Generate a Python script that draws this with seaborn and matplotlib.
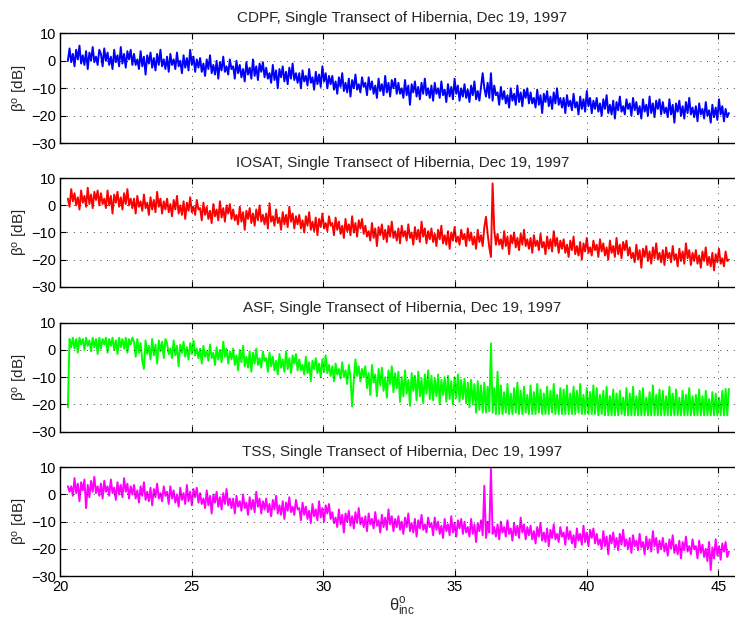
import numpy as np
import pandas as pd
import matplotlib
matplotlib.use("Agg")
import matplotlib.pyplot as plt
import seaborn as sns

# ---------------- data ----------------
theta_start, theta_end = 20.3, 45.4

cdpf = [
    0, 4.5, -0.5, 2.5, -2, 4, 0.5, 5.5, -1, 2, -1.5, 3.5, -3, 3, 0, 5, -0.5, 1.5, -1.5, 4,
    2.5, -2, 4.5, 0, 3, -1.5, 1.5, -3, 4, -0.5, 2, -2, 5, -1, 2.5, -2.5, 3.5, 0.5, 4, -1.5,
    2.5, -1.5, 0.5, -3, 3.5, -2, 1.5, -5, 2, -1, 3, -2.5, 1, -3.5, 2.5, -1.5, 4, -2, 0.5, -3,
    1.5, -4, 2.5, -1.5, 0.5, -3, 3, -2, 0, -4.5, 2, -2.5, 1, -3.5, 4, -1.5, 1.5, -4, 0.5, -2.5,
    1, -4, -1, -5.5, 0.5, -3, 2, -4.5, -1.5, -5, 0, -6.5, -0.5, -3.5, 1.5, -4, -2, -5, 0.5, -3,
    -2, -6.5, 0, -4.5, -1.5, -6, -3, -7.5, -0.5, -5, -2.5, -6.5, 0.5, -5.5, -2, -7, -1, -4, -0.5, -6,
    -2.5, -6.5, -4.5, -8, -1.5, -7, -3.5, -10, -3, -6, -2, -7.5, -4, -8.5, -2.5, -6.5, -1, -7, -4.5, -8,
    -4.5, -10, -3.5, -7.5, -5.5, -9, -3, -8, -6, -10.5, -4, -8.5, -5, -9.5, -2, -7.5, -4.5, -10, -5.5, -8.5,
    -5.5, -10.5, -7.5, -12, -6, -9.5, -4.5, -11, -8, -11.5, -6.5, -13, -7, -10, -5, -10.5, -8.5, -11.5, -6, -9.5,
    -8, -12.5, -6, -10.5, -7.5, -12, -9, -13.5, -6.5, -11, -8.5, -12.5, -5.5, -11.5, -8, -13, -7, -10, -6.5, -12,
    -8, -12, -10, -13.5, -7, -12.5, -9, -16, -8.5, -11.5, -7.5, -13, -9.5, -14, -8, -12, -6.5, -12.5, -10, -13.5,
    -9, -14.5, -8, -12, -10, -13.5, -7.5, -12.5, -10.5, -15, -8.5, -13, -9.5, -14, -6.5, -12, -9, -14.5, -10, -13,
    -8.5, -13.5, -10.5, -15, -9, -12.5, -7.5, -14, -11, -14.5, -9.5, -4.5, -10, -13, -8, -13.5, -4.5, -14.5, -9, -12.5,
    -11.5, -16, -9.5, -14, -11, -15.5, -12.5, -17, -10, -14.5, -12, -16, -9, -15, -11.5, -16.5, -10.5, -13.5, -10, -15.5,
    -11.5, -15.5, -13.5, -17, -10.5, -16, -12.5, -19, -12, -15, -11, -16.5, -13, -17.5, -11.5, -15.5, -10, -16, -13.5, -17,
    -13.5, -19, -12.5, -16.5, -14.5, -18, -12, -17, -15, -19.5, -13, -17.5, -14, -18.5, -11, -16.5, -13.5, -19, -14.5, -17.5,
    -13.5, -18.5, -15.5, -20, -14, -17.5, -12.5, -19, -16, -19.5, -14.5, -21, -15, -18, -13, -18.5, -16.5, -19.5, -14, -17.5,
    -15.5, -20, -13.5, -18, -15, -19.5, -16.5, -21, -14, -18.5, -16, -20, -13, -19, -15.5, -20.5, -14.5, -17.5, -14, -19.5,
    -15, -19, -17, -20.5, -14, -19.5, -16, -22.5, -15.5, -18.5, -14.5, -20, -16.5, -21, -15, -19, -13.5, -19.5, -17, -20.5,
    -16.5, -22, -15.5, -19.5, -17.5, -21, -15, -20, -18, -22.5, -16, -20.5, -17, -21.5, -14, -19.5, -16.5, -22, -17.5, -20.5,
    -19,
]

iosat = [
    2.5, -0.5, 6, 1.5, 4.5, 0, 3, -1.5, 5.5, 1, 3.5, -0.5, 6.5, 0.5, 4, -1, 5, 2, 5.5, 0,
    4.5, 0.5, 2.5, -1, 5.5, 0, 3.5, -3, 4, 1, 5, -0.5, 3, -1.5, 4.5, 0.5, 6, 0, 2.5, -1,
    2.5, -3, 3.5, -0.5, 1.5, -2, 4, -1, 1, -3.5, 3, -1.5, 2, -2.5, 5, -0.5, 2.5, -3, 1.5, -1.5,
    2.5, -2.5, 0.5, -4, 2, -1.5, 3.5, -3, 0, -3.5, 1.5, -5, 1, -2, 3, -2.5, -0.5, -3.5, 2, -1.5,
    -1, -5.5, 1, -3.5, -0.5, -5, -2, -6.5, 0.5, -4, -1.5, -5.5, 1.5, -4.5, -1, -6, 0, -3, 0.5, -5,
    -1.5, -5.5, -3.5, -7, -0.5, -6, -2.5, -9, -2, -5, -1, -6.5, -3, -7.5, -1.5, -5.5, 0, -6, -3.5, -7,
    -3, -8.5, 0.8, -6, -4, -7.5, -1.5, -6.5, -4.5, -9, -2.5, -7, -3.5, -8, -0.5, -6, -3, -8.5, -4, -7,
    -3.5, -8.5, -5.5, -10, -4, -7.5, -2.5, -9, -6, -9.5, -4.5, -11, -5, -8, -3, -8.5, -6.5, -9.5, -4, -7.5,
    -6.5, -11, -4.5, -9, -6, -10.5, -7.5, -12, -5, -9.5, -7, -11, -4, -10, -6.5, -11.5, -5.5, -8.5, -5, -10.5,
    -7.5, -11.5, -9.5, -13, -6.5, -12, -8.5, -15, -8, -11, -7, -12.5, -9, -13.5, -7.5, -11.5, -6, -12, -9.5, -13,
    -8.5, -14, -7.5, -11.5, -9.5, -13, -7, -12, -10, -14.5, -8, -12.5, -9, -13.5, -6, -11.5, -8.5, -14, -9.5, -12.5,
    -8.5, -13.5, -10.5, -15, -9, -12.5, -7.5, -14, -11, -14.5, -9.5, -16, -10, -13, -8, -13.5, -11.5, -14.5, -9, -12.5,
    -10.5, -15, -8.5, -13, -10, -14.5, -11.5, -16, -9, -13.5, -11, -15, -8, -4.2, -10.5, -15.5, -19, 8.1, -9, -14.5,
    -10.5, -14.5, -12.5, -16, -9.5, -15, -11.5, -18, -11, -14, -10, -15.5, -12, -16.5, -10.5, -14.5, -9, -15, -12.5, -16,
    -12, -17.5, -11, -15, -13, -16.5, -10.5, -15.5, -13.5, -18, -11.5, -16, -12.5, -17, -9.5, -15, -12, -17.5, -13, -16,
    -12.5, -17.5, -14.5, -19, -13, -16.5, -11.5, -18, -15, -18.5, -13.5, -20, -14, -17, -12, -17.5, -15.5, -18.5, -13, -16.5,
    -14.5, -19, -12.5, -17, -14, -18.5, -15.5, -20, -13, -17.5, -15, -19, -12, -18, -14.5, -19.5, -13.5, -16.5, -13, -18.5,
    -15.5, -19.5, -17.5, -21, -14.5, -20, -16.5, -23, -16, -19, -15, -20.5, -17, -21.5, -15.5, -19.5, -14, -20, -17.5, -21,
    -16.5, -22, -15.5, -19.5, -17.5, -21, -15, -20, -18, -22.5, -16, -20.5, -17, -21.5, -14, -19.5, -16.5, -22, -17.5, -20.5,
    -16.5, -21.5, -18.5, -23, -17, -20.5, -15.5, -22, -19, -22.5, -17.5, -24, -18, -21, -16, -21.5, -19.5, -22.5, -17, -20.5,
    -20,
]

asf = [
    -21, 4, 1, 4.5, 0.5, 4, -1, 4.5, 2, 4, 0, 4.5, 1.5, 3.5, -0.5, 4.5, 1, 4, -1.5, 4.5,
    0.5, 4, 2, 4.5, -1, 4, 1.5, 4.5, 0, 3.5, -1.5, 4.5, 1, 4, 0.5, 4.5, -1, 4, 2, 4.5,
    3, -2.5, 4, -1, 2.5, -4, -7, 3.5, -1.5, 1.5, -3.5, 4, -2, 2, -5, 3.5, -0.5, 3, -3, 4,
    2.5, -1.5, 0.5, -3, 3.5, -2, 1.5, -6, 2, -1, 3, -2.5, 1, -3.5, 2.5, -1.5, 3.5, -2, 0.5, -3,
    0.5, -5, 1.5, -2.5, -0.5, -4, 2, -3, -1, -5.5, 1, -3.5, 0, -4.5, 3, -2.5, 0.5, -5, -0.5, -3.5,
    0.5, -5.5, -2, -7.5, 0, -4.5, 1.5, -6, -2.5, -6.5, -0.5, -8, -1, -5, 0.5, -5.5, -3, -6.5, -0.5, -4,
    -3, -8, -1, -6, -2.5, -7.5, -4, -9, -1.5, -6.5, -3.5, -8, -0.5, -7, -3, -8.5, -2, -5, -1.5, -7.5,
    -3.5, -7.5, -5.5, -9, -2.5, -8.5, -4.5, -11.5, -4, -7, -3, -8.5, -5, -10, -3.5, -8, -2, -8.5, -5.5, -9.5,
    -6, -11.5, -5, -9, -7, -10.5, -4.5, -10, -7.5, -12.5, -5.5, -10, -20.8, -11, -3.5, -9.5, -6, -11.5, -7, -10,
    -6, -14, -8.5, -16.5, -5.5, -12, -9, -17, -7, -13, -6.5, -15, -10, -17.5, -7.5, -12.5, -6, -15.5, -8.5, -14,
    -8, -19, -10, -17, -7.5, -16, -11, -20.5, -8.5, -15, -9.5, -18.5, -8, -17, -10.5, -19.5, -9, -16, -7.5, -18,
    -9.5, -18.5, -10.5, -17, -9, -20, -11, -16.5, -10, -19, -9.5, -18, -11.5, -20, -10, -17.5, -9, -19, -11, -18,
    -10.5, -19.5, -12, -21, -11, -20, -12.5, -23, -11.5, -22, -13, -23, -12, -23, -13.5, -22.5, 2.4, -23, -14, -23.5,
    -8, -23.5, -13, -23.5, -15.5, -23, -12.5, -23.5, -16, -23.5, -14, -23, -12, -23.5, -15, -23.5, -13.5, -23, -16.5, -23.5,
    -13, -23.5, -15.5, -23.5, -12.5, -23, -14.5, -23.5, -16, -23.5, -13.5, -23.5, -15, -23, -12.5, -23.5, -16.5, -23.5, -14, -23.5,
    -14.5, -23.5, -13, -23.5, -16, -23.5, -13.5, -23.5, -15, -23, -12.5, -23.5, -16.5, -23.5, -14, -23.5, -15.5, -23.5, -13, -23.5,
    -14, -24, -16.5, -23.5, -15, -24, -13.5, -24, -17, -24, -14.5, -24, -16, -24, -15, -23.5, -17.5, -24, -14, -24,
    -16, -24, -13.5, -24, -17, -24, -15, -24, -14, -24, -17.5, -24, -15.5, -24, -13, -24, -16.5, -24, -14.5, -24,
    -15, -24, -17, -24, -13.5, -24, -16, -24, -14.5, -24, -17.5, -24, -15, -24, -16.5, -24, -14, -24, -17, -24,
    -16.5, -24, -14.5, -24, -17, -24, -15, -24, -18, -24, -15.5, -24, -16, -24, -17.5, -24, -15, -24, -14.3, -24,
    -14.3,
]

tss = [
    3, 1, 3, -0.5, 6, 0.5, 4, -2.5, 4.5, 1.5, 5.5, -5, 3.5, -1, 5, 1, 6.5, 0.5, 3, -0.5,
    4, -1.5, 5, 1, 3, -0.5, 5.5, 0.5, 2.5, -2, 4.5, 0, 3.5, -1, 6, 1, 4, -1.5, 3, 0,
    3.5, -1.5, 1.5, -3, 3, -0.5, 4.5, -2, 1, -2.5, 2.5, -4, 2, -1, 4, -1.5, 0.5, -2.5, 3, -0.5,
    1, -3.5, 3, -1.5, 1.5, -3, 0, -4.5, 2.5, -2, 0.5, -3.5, 3.5, -2.5, 1, -4, 2, -1, 2.5, -3,
    0.5, -3.5, -1.5, -5, 1.5, -4, -0.5, -7, 0, -3, 1, -4.5, -1, -5.5, 0.5, -3.5, 2, -4, -1.5, -5,
    -1.5, -7, -0.5, -4.5, -2.5, -6, 0, -5, -3, -7.5, -1, -5.5, -2, -6.5, 1, -4.5, -1.5, -7, -2.5, -5.5,
    -1.5, -6.5, -3.5, -8, -2, -5.5, -0.5, -7, -4, -7.5, -2.5, -9, -3, -6, -1, -6.5, -4.5, -7.5, -2, -5.5,
    -5, -9.5, -3, -7.5, -4.5, -9, -6, -10.5, -3.5, -8, -5.5, -9.5, -2.5, -8.5, -5, -10, -4, -7, -3.5, -9,
    -6.5, -10.5, -8.5, -12, -5.5, -11, -7.5, -14, -7, -10, -6, -11.5, -8, -12.5, -6.5, -10.5, -5, -11, -8.5, -12,
    -8, -13.5, -7, -11, -9, -12.5, -6.5, -11.5, -9.5, -14, -7.5, -12, -8.5, -13, -5.5, -11, -8, -13.5, -9, -12,
    -8, -13, -10, -14.5, -8.5, -12, -7, -13.5, -10.5, -14, -9, -15.5, -9.5, -12.5, -7.5, -13, -11, -14, -8.5, -12,
    -10.5, -15, -8.5, -13, -10, -14.5, -11.5, -16, -9, -13.5, -11, -15, -8, -14, -10.5, -15.5, -9.5, -12.5, -9, -14.5,
    -10, -14, -12, -15.5, -9, -14.5, -11, -17.5, -10.5, -13.5, -9.5, -15, 3.2, -16, -10, -14, 9.4, -14.5, -12, -15.5,
    -11, -16.5, -10, -14, -12, -15.5, -9.5, -14.5, -12.5, -17, -10.5, -15, -11.5, -16, -8.5, -14, -11, -16.5, -12, -15,
    -11.5, -16.5, -13.5, -18, -12, -15.5, -10.5, -17, -14, -17.5, -12.5, -19, -13, -16, -11, -16.5, -14.5, -17.5, -12, -15.5,
    -14, -18.5, -12, -16.5, -13.5, -18, -15, -19.5, -12.5, -17, -14.5, -18.5, -11.5, -17.5, -14, -19, -13, -16, -12.5, -18,
    -14.5, -18.5, -16.5, -20, -13.5, -19, -15.5, -22, -15, -18, -14, -19.5, -16, -20.5, -14.5, -18.5, -13, -19, -16.5, -20,
    -16, -21.5, -15, -19, -17, -20.5, -14.5, -19.5, -17.5, -22, -15.5, -20, -16.5, -21, -13.5, -19, -16, -21.5, -17, -20,
    -16, -21, -18, -22.5, -16.5, -20, -15, -21.5, -18.5, -22, -17, -23.5, -17.5, -20.5, -15.5, -21, -19, -22, -16.5, -20,
    -19, -23.5, -17, -21.5, -18.5, -23, -20, -24.5, -17.5, -27.8, -19.5, -23.5, -16.5, -22.5, -19, -24, -18, -21, -17.5, -23,
    -21,
]

sensors = ["CDPF", "IOSAT", "ASF", "TSS"]
series = [cdpf, iosat, asf, tss]
colors = ["#0000ff", "#ff0000", "#00ff00", "#ff00ff"]
title_tail = ", Single Transect of Hibernia, Dec 19, 1997"
xticks = [20, 25, 30, 35, 40, 45]
yticks = [-30, -20, -10, 0, 10]

# ---------------- style ----------------
sns.set_theme(style="white")
plt.rcParams["font.family"] = ["Liberation Sans", "DejaVu Sans"]
plt.rcParams["mathtext.fontset"] = "custom"
plt.rcParams["mathtext.rm"] = "Liberation Sans"
plt.rcParams["mathtext.it"] = "Liberation Sans"
plt.rcParams["axes.unicode_minus"] = True

fig = plt.figure(figsize=(7.35, 6.2), dpi=100)
fig.patch.set_facecolor("white")

W, H = 735.0, 620.0
left_px, right_px = 60.0, 744.7
tops = [33.3, 178.3, 322.7, 467.3]
bots = [143.3, 286.7, 431.7, 576.0]

for i, (name, vals, col) in enumerate(zip(sensors, series, colors)):
    ax = fig.add_axes([left_px / W, 1 - bots[i] / H,
                       (right_px - left_px) / W, (bots[i] - tops[i]) / H])
    df = pd.DataFrame({
        "theta": np.linspace(theta_start, theta_end, len(vals)),
        "beta": vals,
    })
    sns.lineplot(data=df, x="theta", y="beta", ax=ax, color=col,
                 linewidth=1.4, estimator=None, sort=False)
    ax.set_xlim(20, 46)
    ax.set_ylim(-30, 10)
    ax.set_xticks(xticks)
    ax.set_yticks(yticks)
    ax.grid(True, color="black", linestyle=(0, (1, 7)), linewidth=0.6)
    ax.set_axisbelow(False)
    for s in ax.spines.values():
        s.set_visible(True)
        s.set_color("black")
        s.set_linewidth(1.0)
    ax.tick_params(direction="in", length=4, width=0.8, colors="black",
                   top=True, right=True, bottom=True, left=True,
                   labelsize=10.5, pad=3)
    ax.set_title(name + title_tail, fontsize=11, pad=8)
    ax.set_ylabel("β$^{\\mathrm{o}}$ [dB]", fontsize=11, labelpad=1)
    if i < 3:
        ax.set_xticklabels([])
        ax.set_xlabel("")
    else:
        ax.set_xlabel("θ$^{\\mathrm{o}}_{\\mathrm{inc}}$", fontsize=12, labelpad=1)
    ax.set_facecolor("white")

fig.savefig("out.png", dpi=100, facecolor="white")
